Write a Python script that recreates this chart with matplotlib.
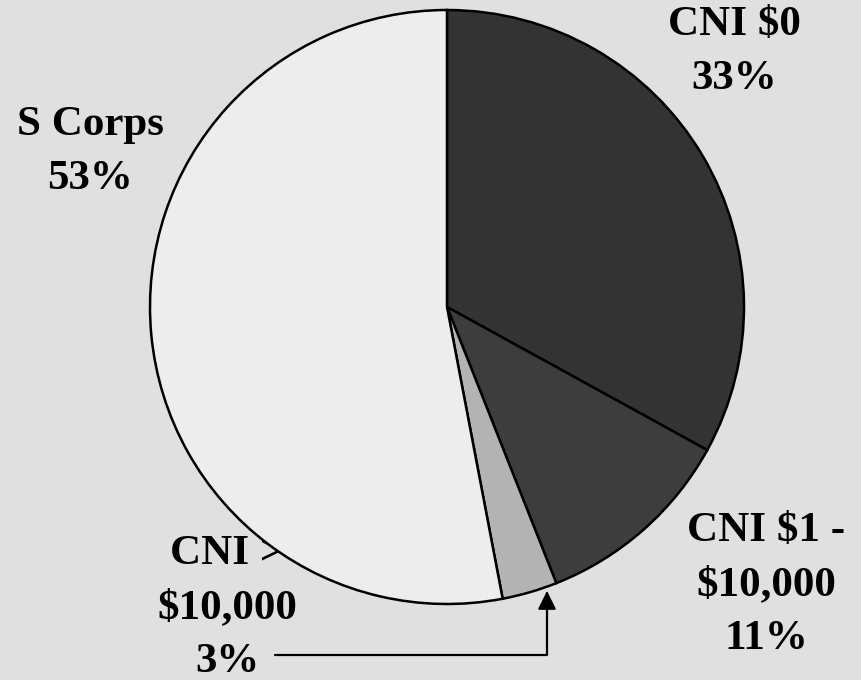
import matplotlib
matplotlib.use("Agg")
import matplotlib.pyplot as plt

# share of corporations by category
categories = ["CNI $0", "CNI $1 -\n$10,000", "CNI >\n$10,000", "S Corps"]
shares = [33, 11, 3, 53]
colors = ["#333333", "#3d3d3d", "#b3b3b3", "#ededed"]

BG = "#e0e0e0"
W, H = 861, 680

plt.rcParams["font.family"] = ["Liberation Serif", "DejaVu Serif"]

fig = plt.figure(figsize=(W / 100, H / 100), dpi=100, facecolor=BG)
ax = fig.add_axes([0, 0, 1, 1])
ax.set_facecolor(BG)

ax.pie(shares, colors=colors, startangle=90, counterclock=False,
       center=(447, H - 307), radius=297, frame=True,
       wedgeprops=dict(edgecolor="black", linewidth=1.8))
ax.set_xlim(0, W)
ax.set_ylim(0, H)
ax.set_aspect("equal")
ax.axis("off")

txt = dict(fontsize=31, fontweight="bold", ha="center", va="center",
           linespacing=1.55)

ax.text(734, H - 52, f"{categories[0]}\n{shares[0]}%", **txt)
ax.text(90, H - 152, f"{categories[3]}\n{shares[3]}%", **txt)
ax.text(766, H - 585, f"{categories[1]}\n{shares[1]}%", **txt)
# this label sits partly behind the pie
ax.text(227, H - 608, f"{categories[2]}\n{shares[2]}%", zorder=0, **txt)

ax.annotate("", xy=(547, H - 591), xytext=(275, H - 655),
            arrowprops=dict(arrowstyle="-|>,head_length=1.1,head_width=0.55",
                            connectionstyle="angle,angleA=0,angleB=90,rad=0",
                            color="black", lw=1.6, shrinkA=0, shrinkB=0))

fig.savefig("out.png", dpi=100, facecolor=BG)
